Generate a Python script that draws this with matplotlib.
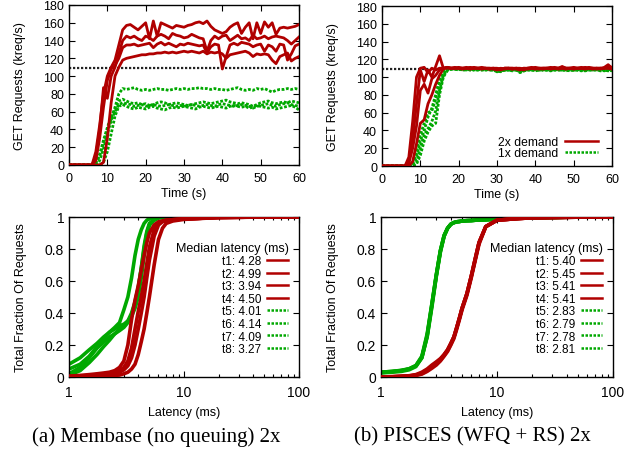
import numpy as np
import matplotlib
matplotlib.use('Agg')
import matplotlib.pyplot as plt
from matplotlib.ticker import NullFormatter

plt.rcParams['font.family'] = ['Liberation Sans', 'DejaVu Sans']

# ---- data -------------------------------------------------------------
time_s = np.arange(0, 61)
capacity = 109

# (a) Membase, 2x demand tenants (kreq/s)
mb_2x_1 = [0, 0, 0, 0, 0, 0, 0, 15, 45, 80,
           100, 110, 118, 135, 152, 157, 158, 155, 152, 156,
           160, 142, 162, 145, 160, 158, 156, 154, 157, 156,
           155, 157, 158, 160, 161, 159, 162, 156, 152, 150,
           148, 150, 155, 158, 160, 148, 155, 160, 142, 160,
           148, 161, 155, 160, 147, 154, 155, 154, 155, 156,
           158]
mb_2x_2 = [0, 0, 0, 0, 0, 0, 0, 10, 40, 87,
           75, 100, 110, 125, 140, 145, 143, 145, 142, 140,
           145, 143, 140, 145, 147, 145, 142, 148, 146, 145,
           143, 144, 147, 145, 143, 142, 128, 140, 145, 142,
           145, 146, 140, 143, 146, 142, 143, 140, 146, 142,
           143, 145, 142, 144, 145, 144, 143, 140, 136, 140,
           144]
mb_2x_3 = [0, 0, 0, 0, 0, 0, 0, 5, 30, 65,
           95, 108, 112, 120, 132, 135, 135, 136, 134, 135,
           136, 137, 132, 136, 138, 135, 137, 135, 133, 136,
           135, 137, 136, 135, 134, 135, 126, 133, 136, 135,
           108, 122, 135, 137, 135, 138, 137, 136, 133, 135,
           136, 128, 135, 133, 128, 136, 135, 118, 125, 134,
           136]
mb_2x_4 = [0, 0, 0, 0, 0, 0, 0, 0, 0, 3,
           30, 70, 100, 110, 118, 120, 121, 122, 123, 124,
           124, 125, 125, 126, 126, 127, 126, 127, 126, 127,
           128, 127, 128, 127, 126, 128, 125, 127, 126, 127,
           125, 120, 124, 125, 126, 127, 128, 126, 122, 125,
           124, 125, 124, 118, 114, 122, 124, 126, 117, 120,
           122]
# (a) Membase, 1x demand tenants
mb_1x_1 = [0, 0, 0, 0, 0, 0, 0, 3, 10, 25,
           40, 52, 65, 80, 86, 85, 86, 87, 85, 84,
           85, 84, 85, 86, 85, 85, 84, 85, 86, 85,
           86, 85, 86, 86, 87, 86, 86, 85, 86, 85,
           85, 84, 85, 86, 87, 85, 84, 85, 84, 86,
           85, 86, 84, 82, 84, 85, 85, 86, 85, 86,
           85]
mb_1x_2 = [0, 0, 0, 0, 0, 0, 0, 2, 12, 28,
           42, 55, 62, 72, 74, 72, 70, 69, 70, 68,
           69, 67, 68, 70, 71, 70, 68, 69, 70, 69,
           68, 67, 68, 69, 70, 71, 70, 69, 70, 71,
           72, 73, 71, 70, 69, 70, 69, 68, 66, 68,
           70, 71, 72, 70, 69, 70, 71, 70, 72, 71,
           70]
mb_1x_3 = [0, 0, 0, 0, 0, 0, 0, 0, 5, 18,
           35, 50, 60, 68, 70, 69, 68, 66, 67, 68,
           66, 67, 68, 67, 66, 67, 68, 67, 66, 67,
           66, 67, 68, 67, 66, 67, 68, 67, 66, 68,
           69, 68, 67, 66, 67, 68, 67, 66, 64, 66,
           67, 68, 69, 67, 66, 68, 69, 70, 68, 67,
           66]
mb_1x_4 = [0, 0, 0, 0, 0, 0, 0, 0, 0, 3,
           15, 35, 55, 66, 68, 66, 64, 63, 65, 64,
           63, 65, 66, 64, 63, 62, 64, 65, 64, 65,
           66, 65, 64, 63, 65, 66, 65, 64, 65, 66,
           65, 64, 66, 67, 66, 65, 66, 64, 65, 67,
           66, 65, 64, 65, 63, 64, 65, 66, 67, 65,
           62]

# (b) PISCES, 2x demand tenants
ps_2x_1 = [0, 0, 0, 0, 0, 0, 0, 10, 50, 100,
           110, 111, 105, 110, 108, 110, 110, 111, 110, 110,
           111, 110, 110, 111, 110, 110, 109, 110, 110, 109,
           108, 109, 110, 110, 109, 110, 109, 108, 110, 111,
           110, 110, 109, 110, 111, 110, 110, 111, 110, 110,
           111, 110, 110, 111, 110, 110, 110, 109, 111, 114,
           110]
ps_2x_2 = [0, 0, 0, 0, 0, 0, 0, 5, 30, 70,
           108, 95, 108, 100, 112, 124, 110, 111, 110, 111,
           110, 110, 111, 110, 111, 110, 110, 110, 109, 110,
           109, 108, 110, 110, 110, 109, 108, 110, 110, 110,
           111, 110, 110, 110, 110, 111, 110, 112, 110, 110,
           110, 110, 111, 110, 110, 109, 110, 110, 110, 112,
           111]
ps_2x_3 = [0, 0, 0, 0, 0, 0, 0, 3, 20, 45,
           85, 92, 82, 98, 102, 108, 110, 110, 110, 110,
           110, 109, 110, 110, 110, 110, 111, 110, 109, 110,
           109, 110, 109, 110, 110, 110, 109, 110, 109, 110,
           110, 109, 110, 110, 110, 110, 109, 110, 110, 110,
           109, 110, 110, 110, 111, 110, 110, 110, 110, 110,
           109]
ps_2x_4 = [0, 0, 0, 0, 0, 0, 0, 0, 5, 25,
           48, 52, 70, 80, 92, 102, 109, 111, 110, 110,
           110, 110, 110, 109, 110, 110, 110, 110, 110, 110,
           110, 109, 110, 110, 109, 110, 110, 109, 110, 110,
           109, 110, 110, 110, 109, 110, 110, 110, 109, 110,
           110, 110, 110, 109, 110, 110, 109, 110, 110, 110,
           110]
# (b) PISCES, 1x demand tenants
ps_1x_1 = [0, 0, 0, 0, 0, 0, 0, 0, 3, 15,
           35, 48, 60, 62, 75, 92, 105, 109, 110, 109,
           109, 109, 108, 109, 109, 108, 109, 109, 108, 108,
           106, 107, 108, 108, 109, 108, 106, 108, 108, 109,
           108, 108, 109, 108, 108, 109, 108, 108, 109, 108,
           108, 109, 108, 108, 109, 108, 108, 107, 108, 108,
           109]
ps_1x_2 = [0, 0, 0, 0, 0, 0, 0, 0, 1, 10,
           28, 40, 55, 65, 80, 98, 107, 109, 109, 110,
           109, 108, 109, 108, 109, 109, 108, 108, 109, 108,
           107, 108, 108, 109, 108, 108, 107, 108, 109, 108,
           109, 108, 108, 109, 108, 108, 109, 108, 108, 109,
           108, 108, 109, 108, 108, 108, 109, 108, 107, 109,
           108]
ps_1x_3 = [0, 0, 0, 0, 0, 0, 0, 0, 0, 4,
           20, 35, 42, 50, 62, 85, 102, 108, 109, 109,
           108, 109, 109, 108, 108, 109, 108, 109, 108, 108,
           107, 106, 108, 108, 108, 109, 105, 107, 108, 108,
           108, 109, 108, 108, 107, 108, 108, 109, 108, 107,
           108, 108, 107, 108, 108, 109, 108, 108, 108, 107,
           108]
ps_1x_4 = [0, 0, 0, 0, 0, 0, 0, 0, 0, 2,
           12, 28, 38, 45, 48, 80, 100, 107, 109, 109,
           109, 108, 108, 109, 108, 108, 109, 108, 108, 109,
           106, 107, 108, 108, 107, 108, 106, 107, 108, 108,
           107, 108, 108, 108, 109, 108, 108, 108, 107, 108,
           108, 108, 108, 107, 108, 108, 108, 109, 108, 108,
           107]

# latency CDFs
lat_ms = [1, 1.25, 1.5, 1.75, 2, 2.25, 2.5, 2.75, 3, 3.25, 3.5, 3.75, 4,
          4.25, 4.5, 4.75, 5, 5.5, 6, 6.5, 7, 8, 10, 15, 20, 50, 100]

mb_cdf = {
    't1': [0.003, 0.006, 0.01, 0.015, 0.02, 0.025, 0.03, 0.04, 0.06, 0.10, 0.18, 0.30, 0.41,
           0.50, 0.60, 0.71, 0.81, 0.92, 0.96, 0.975, 0.98, 0.983, 0.988, 0.993, 0.997, 1.0, 1.0],
    't2': [0.001, 0.002, 0.003, 0.004, 0.005, 0.007, 0.01, 0.012, 0.02, 0.03, 0.05, 0.08, 0.14,
           0.22, 0.30, 0.40, 0.50, 0.70, 0.86, 0.93, 0.96, 0.975, 0.985, 0.992, 0.996, 1.0, 1.0],
    't3': [0.005, 0.01, 0.015, 0.02, 0.025, 0.03, 0.04, 0.06, 0.10, 0.20, 0.36, 0.48, 0.57,
           0.67, 0.76, 0.84, 0.90, 0.95, 0.97, 0.975, 0.98, 0.983, 0.988, 0.993, 0.997, 1.0, 1.0],
    't4': [0.002, 0.004, 0.007, 0.01, 0.015, 0.02, 0.025, 0.03, 0.045, 0.07, 0.12, 0.20, 0.30,
           0.40, 0.50, 0.62, 0.73, 0.88, 0.95, 0.97, 0.978, 0.983, 0.988, 0.993, 0.997, 1.0, 1.0],
    't5': [0.02, 0.06, 0.12, 0.18, 0.22, 0.25, 0.27, 0.29, 0.31, 0.34, 0.39, 0.46, 0.55,
           0.68, 0.82, 0.91, 0.96, 0.985, 0.995, 0.998, 1.0, 1.0, 1.0, 1.0, 1.0, 1.0, 1.0],
    't6': [0.05, 0.08, 0.13, 0.19, 0.24, 0.28, 0.30, 0.32, 0.33, 0.35, 0.38, 0.43, 0.50,
           0.62, 0.76, 0.88, 0.95, 0.98, 0.995, 0.998, 1.0, 1.0, 1.0, 1.0, 1.0, 1.0, 1.0],
    't7': [0.01, 0.04, 0.09, 0.14, 0.19, 0.23, 0.27, 0.30, 0.32, 0.35, 0.40, 0.47, 0.56,
           0.68, 0.80, 0.90, 0.95, 0.98, 0.995, 0.998, 1.0, 1.0, 1.0, 1.0, 1.0, 1.0, 1.0],
    't8': [0.08, 0.12, 0.17, 0.21, 0.25, 0.28, 0.31, 0.34, 0.42, 0.50, 0.62, 0.76, 0.86,
           0.92, 0.96, 0.98, 0.99, 0.995, 0.998, 1.0, 1.0, 1.0, 1.0, 1.0, 1.0, 1.0, 1.0],
}
mb_median = ['4.28', '4.99', '3.94', '4.50', '4.01', '4.14', '4.09', '3.27']

ps_cdf = {
    't1': [0.0, 0.002, 0.004, 0.007, 0.012, 0.025, 0.045, 0.07, 0.09, 0.11, 0.14, 0.17, 0.21,
           0.25, 0.31, 0.37, 0.43, 0.52, 0.63, 0.74, 0.84, 0.94, 0.98, 0.99, 0.995, 0.999, 1.0],
    't2': [0.0, 0.001, 0.003, 0.005, 0.01, 0.018, 0.035, 0.055, 0.075, 0.10, 0.13, 0.16, 0.20,
           0.24, 0.30, 0.36, 0.42, 0.51, 0.62, 0.73, 0.83, 0.94, 0.98, 0.99, 0.995, 0.999, 1.0],
    't3': [0.0, 0.002, 0.005, 0.008, 0.015, 0.03, 0.05, 0.075, 0.095, 0.115, 0.14, 0.17, 0.21,
           0.25, 0.31, 0.37, 0.43, 0.52, 0.63, 0.74, 0.84, 0.94, 0.98, 0.99, 0.995, 0.999, 1.0],
    't4': [0.0, 0.001, 0.003, 0.006, 0.011, 0.022, 0.04, 0.065, 0.085, 0.105, 0.135, 0.165, 0.205,
           0.25, 0.31, 0.37, 0.43, 0.52, 0.63, 0.74, 0.84, 0.94, 0.98, 0.99, 0.995, 0.999, 1.0],
    't5': [0.03, 0.035, 0.04, 0.05, 0.07, 0.12, 0.25, 0.44, 0.63, 0.78, 0.88, 0.93, 0.955,
           0.965, 0.97, 0.972, 0.975, 0.977, 0.978, 0.98, 0.981, 0.983, 0.987, 0.992, 0.995, 1.0, 1.0],
    't6': [0.025, 0.03, 0.035, 0.045, 0.065, 0.12, 0.26, 0.46, 0.64, 0.79, 0.885, 0.93, 0.955,
           0.965, 0.97, 0.972, 0.975, 0.977, 0.978, 0.98, 0.981, 0.983, 0.987, 0.992, 0.995, 1.0, 1.0],
    't7': [0.03, 0.035, 0.042, 0.052, 0.072, 0.13, 0.27, 0.46, 0.64, 0.79, 0.885, 0.93, 0.955,
           0.965, 0.97, 0.972, 0.975, 0.977, 0.978, 0.98, 0.981, 0.983, 0.987, 0.992, 0.995, 1.0, 1.0],
    't8': [0.028, 0.033, 0.04, 0.05, 0.07, 0.125, 0.255, 0.45, 0.635, 0.785, 0.88, 0.93, 0.955,
           0.965, 0.97, 0.972, 0.975, 0.977, 0.978, 0.98, 0.981, 0.983, 0.987, 0.992, 0.995, 1.0, 1.0],
}
ps_median = ['5.40', '5.45', '5.41', '5.41', '2.83', '2.79', '2.78', '2.81']

red = '#b00000'
green = '#00a800'
dotted = (0, (1, 0.6))

fig = plt.figure(figsize=(6.37, 4.52), dpi=100)
W, H = 637.0, 452.0


def add_ax(l, t, r, b):
    return fig.add_axes([l / W, 1 - b / H, (r - l) / W, (b - t) / H])


def style(ax, size):
    ax.tick_params(which='both', direction='in', top=True, right=True, labelsize=size)
    ax.tick_params(which='major', length=4, width=0.8)
    ax.tick_params(which='minor', length=2.5, width=0.8)
    for s in ax.spines.values():
        s.set_linewidth(1.0)


ax_tl = add_ax(69, 6, 299, 166)
ax_tr = add_ax(382, 7, 612, 167)
ax_bl = add_ax(69, 218, 299, 378)
ax_br = add_ax(381, 218, 613, 378)

# throughput panels
for ax, reds, greens in [
        (ax_tl, [mb_2x_1, mb_2x_2, mb_2x_3, mb_2x_4], [mb_1x_1, mb_1x_2, mb_1x_3, mb_1x_4]),
        (ax_tr, [ps_2x_1, ps_2x_2, ps_2x_3, ps_2x_4], [ps_1x_1, ps_1x_2, ps_1x_3, ps_1x_4])]:
    ax.axhline(capacity, color='#222222', lw=1.6, ls=(0, (1, 0.8)), zorder=1)
    for g in greens:
        ax.plot(time_s, g, color=green, lw=2.0, ls=dotted, zorder=2)
    for r in reds:
        ax.plot(time_s, r, color=red, lw=2.0, zorder=3)
    ax.set_xlim(0, 60)
    ax.set_ylim(0, 180)
    ax.set_xticks(range(0, 61, 10))
    ax.set_yticks(range(0, 181, 20))
    style(ax, 9)
    ax.tick_params(axis='x', pad=5)
    ax.set_xlabel('Time (s)', fontsize=9, labelpad=2)
    ax.set_ylabel('GET Requests (kreq/s)', fontsize=9, labelpad=12)

key_red = plt.Line2D([], [], color=red, lw=1.8)
key_green = plt.Line2D([], [], color=green, lw=1.8, ls=dotted)
ax_tr.legend([key_red, key_green], ['2x demand', '1x demand'], loc='lower right',
             bbox_to_anchor=(0.975, -0.01), frameon=False, markerfirst=False,
             fontsize=8.7, handlelength=2.7, handletextpad=0.6, labelspacing=-0.05,
             borderpad=0.2)

# latency CDF panels
for ax, cdf, med in [(ax_bl, mb_cdf, mb_median), (ax_br, ps_cdf, ps_median)]:
    key = []
    labels = []
    for j, (name, vals) in enumerate(cdf.items()):
        c = red if j < 4 else green
        ax.plot(lat_ms, vals, color=c, lw=2.6, zorder=3 if j < 4 else 2)
        key.append(plt.Line2D([], [], color=c, lw=1.8, ls='-' if j < 4 else dotted))
        labels.append('%s: %s' % (name, med[j]))
    ax.legend(key, labels, title='Median latency (ms)', alignment='right',
              loc='upper right', bbox_to_anchor=(0.985, 0.885), frameon=False,
              markerfirst=False, fontsize=8.5, title_fontsize=9,
              handlelength=1.8, handletextpad=0.5, labelspacing=0.05, borderpad=0.1)
    ax.set_xscale('log')
    ax.set_xlim(1, 100)
    ax.set_ylim(0, 1)
    ax.set_xticks([1, 10, 100])
    ax.set_xticklabels(['1', '10', '100'])
    ax.xaxis.set_minor_formatter(NullFormatter())
    ax.set_yticks([0, 0.2, 0.4, 0.6, 0.8, 1])
    ax.set_yticklabels(['0', '0.2', '0.4', '0.6', '0.8', '1'])
    style(ax, 10)
    ax.tick_params(axis='x', pad=6)
    ax.set_xlabel('Latency (ms)', fontsize=9, labelpad=5)
    ax.set_ylabel('Total Fraction Of Requests', fontsize=9, labelpad=13)

fig.text(156 / W, 1 - 437 / H, '(a) Membase (no queuing) 2x', ha='center', va='center',
         family='Liberation Serif', fontsize=15)
fig.text(472 / W, 1 - 437 / H, '(b) PISCES (WFQ + RS) 2x', ha='center', va='center',
         family='Liberation Serif', fontsize=15)

fig.savefig('out.png', dpi=100)
